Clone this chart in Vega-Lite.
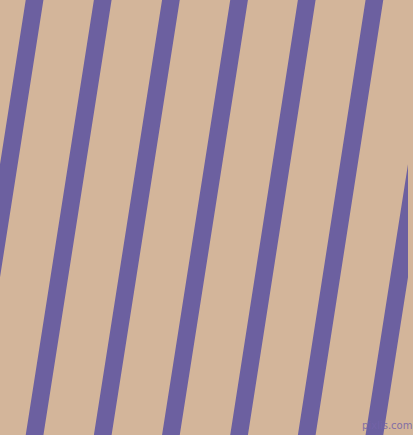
{
  "$schema": "https://vega.github.io/schema/vega-lite/v6.json",
  "width": 413,
  "height": 435,
  "autosize": {"type": "fit", "contains": "padding"},
  "padding": 0,
  "background": "#d3b59a",
  "config": {"view": {"stroke": null}},
  "layer": [
    {
      "data": {
        "values": [
          {"top": -34, "bottom": -103},
          {"top": 35, "bottom": -34},
          {"top": 104, "bottom": 35},
          {"top": 173, "bottom": 104},
          {"top": 242, "bottom": 173},
          {"top": 310.5, "bottom": 242},
          {"top": 379, "bottom": 310.5},
          {"top": 448, "bottom": 379},
          {"top": 517, "bottom": 448}
        ]
      },
      "mark": {"type": "rule", "color": "#6c60a0", "strokeWidth": 17.5, "strokeCap": "square", "clip": true},
      "encoding": {
        "x": {"field": "top", "type": "quantitative", "scale": {"domain": [0, 413], "nice": false, "zero": false}, "axis": null},
        "x2": {"field": "bottom"},
        "y": {"datum": 0, "type": "quantitative", "scale": {"domain": [0, 435], "reverse": true, "nice": false, "zero": false}, "axis": null},
        "y2": {"datum": 435}
      }
    },
    {
      "data": {"values": [{"label": "pixlis.com"}]},
      "mark": {"type": "text", "font": "DejaVu Sans", "fontSize": 10, "color": "#7464a8", "opacity": 0.85, "align": "center", "baseline": "alphabetic"},
      "encoding": {
        "text": {"field": "label"},
        "x": {"datum": 392, "type": "quantitative"},
        "y": {"datum": 429, "type": "quantitative"}
      }
    }
  ]
}
